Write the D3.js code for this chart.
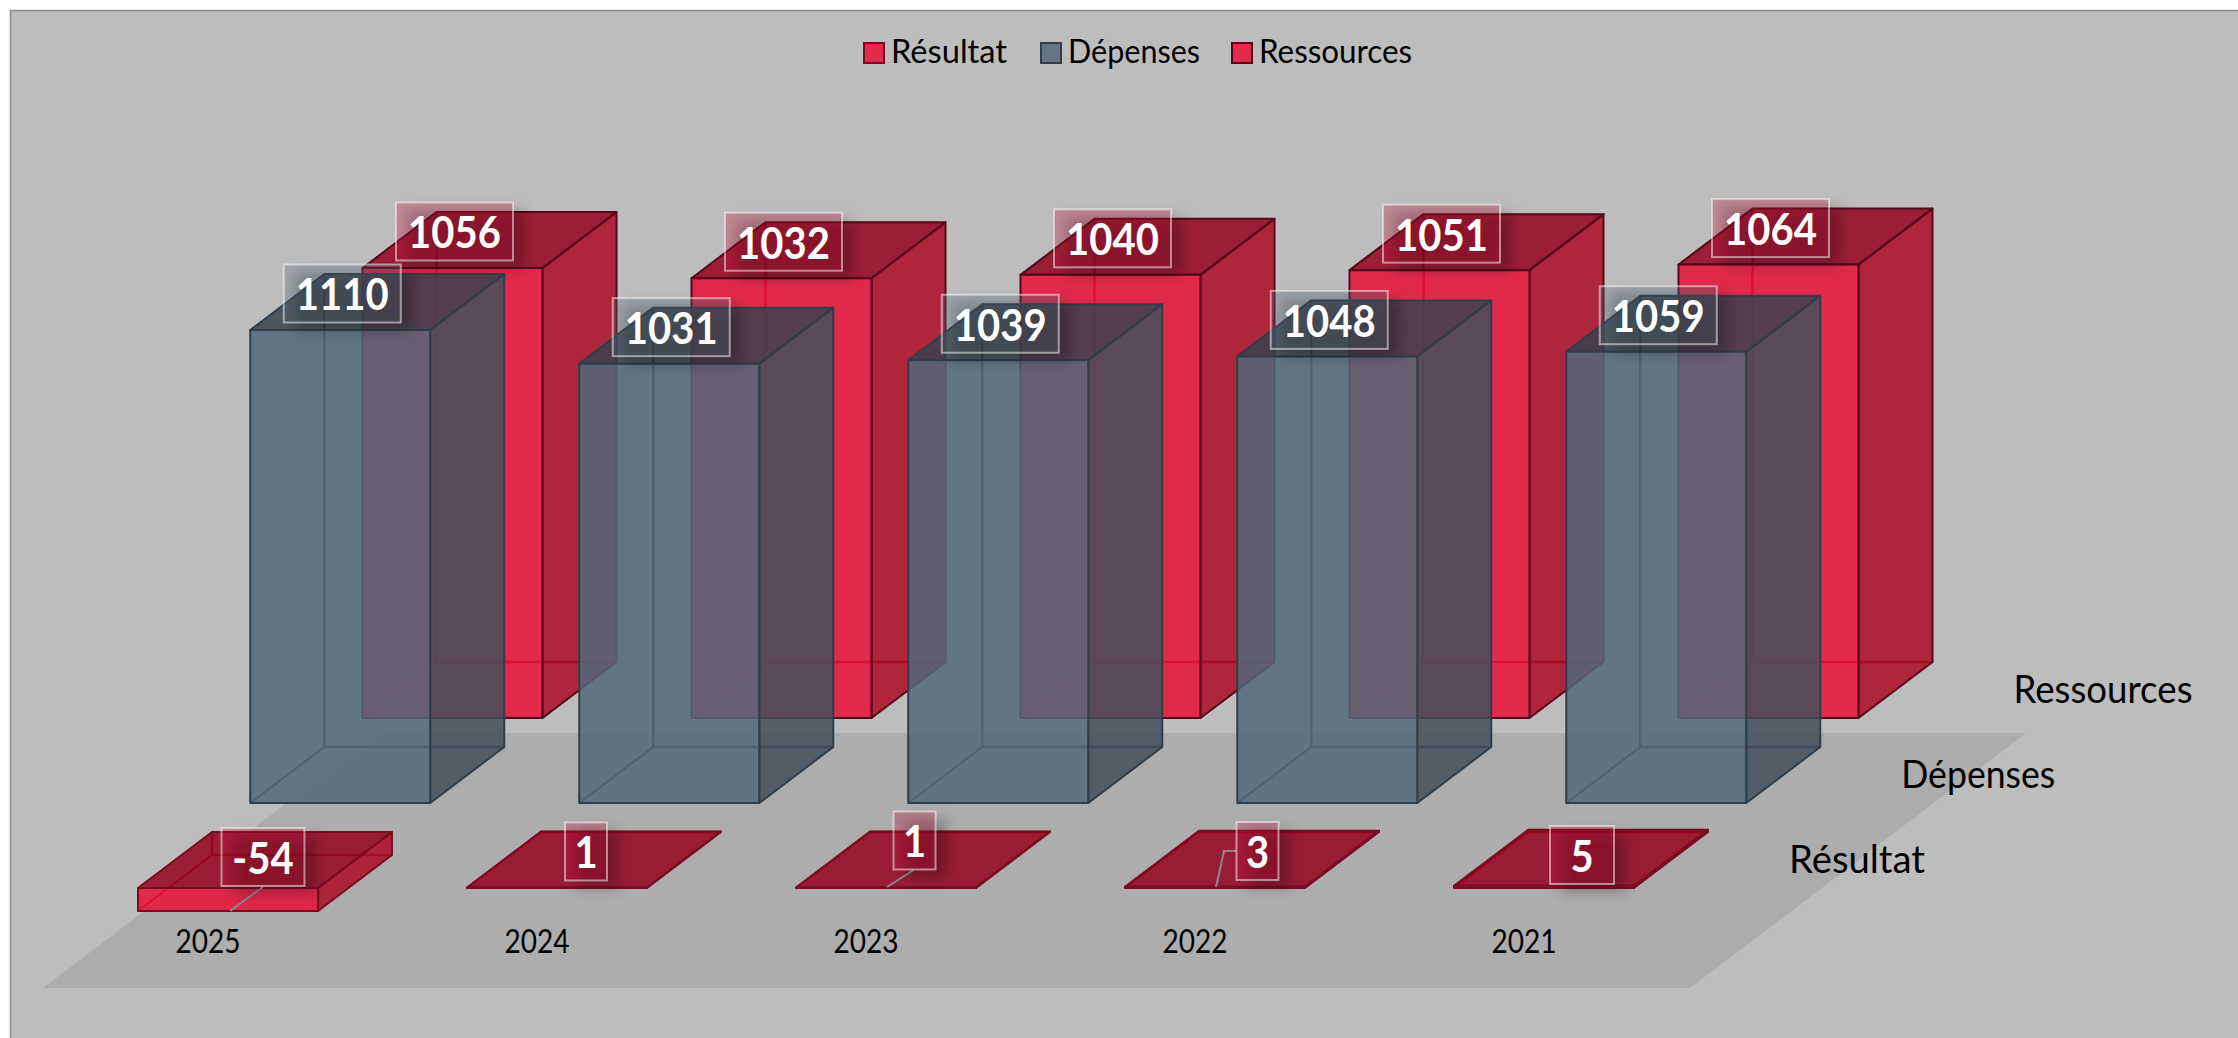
<!DOCTYPE html>
<html>
<head>
<meta charset="utf-8">
<title>Résultat, Dépenses, Ressources</title>
<script src="https://cdn.jsdelivr.net/npm/d3@7"></script>
<style>
  html, body { margin: 0; padding: 0; background: #fff; }
  svg { display: block; }
  text { font-family: Lato, "Open Sans", sans-serif; }
  .axis .domain, .axis line { display: none; }
</style>
</head>
<body>
<div id="chart"></div>
<script>
const WIDTH = 2238;
const HEIGHT = 1038;

const years = ["2025", "2024", "2023", "2022", "2021"];
const seriesNames = ["Résultat", "Dépenses", "Ressources"];
const resultat = [-54, 1, 1, 3, 5];
const depenses = [1110, 1031, 1039, 1048, 1059];
const ressources = [1056, 1032, 1040, 1051, 1064];

// oblique projection of the bar depth
const DEPTH = { X: 74, Y: 56 };

const COLORS = {
  "Résultat": { front: "rgb(232,17,55)", side: "rgb(173,11,38)", top: "rgb(149,4,28)", stroke: "#7a0c22", hidden: "#a80f2c", swatch: "#e22b4b", box: "#c4103c" },
  "Dépenses": { front: "rgb(82,104,122)", side: "rgb(66,79,92)", top: "rgb(56,66,78)", stroke: "#2f3e49", hidden: "#2f3e49", swatch: "#647685", box: "#55697a" },
  "Ressources": { front: "rgb(232,17,55)", side: "rgb(173,11,38)", top: "rgb(149,4,28)", stroke: "#55081a", hidden: "#a80f2c", swatch: "#e22b4b", box: "#c4103c" },
};

// hand placed labels of the flat Résultat row, relative to band centre and base line
const resultatLabelNudges = [[35, -31], [29, -36.5], [28.5, -47.5], [42.5, -37], [38, -33]];
const resultatBoxWidths = [83, 42, 42, 42, 64];
const resultatLeaders = [
  [[35, -1], [2, 23]],
  null,
  [[27.6, -18], [1, -1]],
  [[21, -37], [9, -37], [1, -1]],
  null,
];

// the original font is narrower than Lato, these squeeze the text to the same run length
const legendTextWidths = [116, 132, 153];
const depthTextWidths = [136, 154, 179];
const VALUE_SQUEEZE = 0.93;

const x = d3.scaleBand().domain(years).range([138, 1634]).paddingInner(1 - 180 / 329);
const depthX = d3.scalePoint().domain(seriesNames).range([0, 224.5]);
const baseY = d3.scalePoint().domain(seriesNames).range([888, 718]);
const barHeight = d3.scaleLinear().domain([0, 1110]).range([0, 473]);

const svg = d3
  .select("#chart")
  .append("svg")
  .attr("width", WIDTH)
  .attr("height", HEIGHT);

const defs = svg.append("defs");
defs
  .append("filter")
  .attr("id", "label-shadow")
  .attr("x", "-80%")
  .attr("y", "-80%")
  .attr("width", "260%")
  .attr("height", "260%")
  .append("feGaussianBlur")
  .attr("stdDeviation", 7);

svg
  .append("rect")
  .attr("x", 10.5)
  .attr("y", 10.5)
  .attr("width", WIDTH)
  .attr("height", HEIGHT)
  .style("fill", "#bdbdbd")
  .style("stroke", "#8a8a8a")
  .style("stroke-width", 1.5);

// floor
const pts = (arr) => arr.map((p) => p.join(",")).join(" ");
svg
  .append("polygon")
  .attr("points", pts([[43, 988], [1690, 988], [2026, 733], [379, 733]]))
  .style("fill", "#adadad");

// legend
const legendSwatchX = [864, 1041, 1232];
const legend = svg
  .selectAll(".legend")
  .data(seriesNames)
  .enter()
  .append("g")
  .attr("class", "legend")
  .attr("transform", (d, i) => `translate(${legendSwatchX[i]}, 43)`);
legend
  .append("rect")
  .attr("width", 20)
  .attr("height", 20)
  .style("fill", (d) => COLORS[d].swatch)
  .style("stroke", (d) => COLORS[d].stroke)
  .style("stroke-width", 2);
legend
  .append("text")
  .attr("x", 27)
  .attr("y", 20)
  .attr("font-size", "33px")
  .attr("textLength", (d, i) => legendTextWidths[i])
  .attr("lengthAdjust", "spacingAndGlyphs")
  .style("fill", "#000")
  .text((d) => d);

const seriesValues = { "Résultat": resultat, "Dépenses": depenses, "Ressources": ressources };

function drawBar(g, name, year, value) {
  const c = COLORS[name];
  const x0 = x(year) + depthX(name);
  const x1 = x0 + x.bandwidth();
  const base = baseY(name);
  const top = value >= 0 ? base - barHeight(value) : base;
  const bottom = value >= 0 ? base : base + barHeight(-value);
  const dx = DEPTH.X;
  const dy = DEPTH.Y;

  // edges at the back, seen through the faces
  g.append("polyline")
    .attr("points", pts([[x0 + dx, top - dy], [x0 + dx, bottom - dy], [x1 + dx, bottom - dy]]))
    .style("fill", "none")
    .style("stroke", c.hidden)
    .style("stroke-width", 2.5);
  g.append("line")
    .attr("x1", x0)
    .attr("y1", bottom)
    .attr("x2", x0 + dx)
    .attr("y2", bottom - dy)
    .style("stroke", c.hidden)
    .style("stroke-width", 2);

  const faces = [
    { fill: c.side, opacity: 0.85, p: [[x1, top], [x1 + dx, top - dy], [x1 + dx, bottom - dy], [x1, bottom]] },
    { fill: c.top, opacity: 0.85, p: [[x0, top], [x0 + dx, top - dy], [x1 + dx, top - dy], [x1, top]] },
    { fill: c.front, opacity: 0.85, p: [[x0, top], [x1, top], [x1, bottom], [x0, bottom]] },
  ];
  g.selectAll("polygon")
    .data(faces)
    .enter()
    .append("polygon")
    .attr("points", (d) => pts(d.p))
    .style("fill", (d) => d.fill)
    .style("fill-opacity", (d) => d.opacity)
    .style("stroke", c.stroke)
    .style("stroke-width", 2)
    .style("stroke-linejoin", "round");
}

// back row first
[...seriesNames].reverse().forEach((name) => {
  const row = svg.append("g").attr("class", "row");
  years.forEach((year, i) => {
    drawBar(row.append("g"), name, year, seriesValues[name][i]);
  });
});

// year axis
svg
  .append("g")
  .attr("class", "axis")
  .attr("transform", "translate(-20, 930)")
  .call(d3.axisBottom(x).tickSize(0).tickPadding(0))
  .call((g) => {
    g.selectAll("text")
      .attr("font-size", "32px")
      .attr("font-family", "Lato")
      .attr("textLength", 65)
      .attr("lengthAdjust", "spacingAndGlyphs")
      .style("fill", "#000");
  });

// series names along the depth
svg
  .selectAll(".depth-label")
  .data(seriesNames)
  .enter()
  .append("text")
  .attr("class", "depth-label")
  .attr("x", (d) => 1789 + depthX(d))
  .attr("y", (d) => baseY(d) - 15)
  .attr("font-size", "38px")
  .attr("textLength", (d, i) => depthTextWidths[i])
  .attr("lengthAdjust", "spacingAndGlyphs")
  .style("fill", "#000")
  .text((d) => d);

// value labels
const labelData = [];
[...seriesNames].reverse().forEach((name) => {
  seriesValues[name].forEach((value, i) => {
    const centre = x(years[i]) + x.bandwidth() / 2 + depthX(name);
    if (name === "Résultat") {
      labelData.push({
        name,
        value,
        centre,
        cx: centre + resultatLabelNudges[i][0],
        cy: baseY(name) + resultatLabelNudges[i][1],
        w: resultatBoxWidths[i],
        leader: resultatLeaders[i],
      });
    } else {
      labelData.push({
        name,
        value,
        centre,
        cx: centre + 2,
        cy: baseY(name) - barHeight(value) - 36.5,
        w: 117,
        leader: null,
      });
    }
  });
});

const BOX_H = 58;
const labels = svg
  .selectAll(".value-label")
  .data(labelData)
  .enter()
  .append("g")
  .attr("class", "value-label");

labels
  .filter((d) => d.leader)
  .append("polyline")
  .attr("points", (d) => pts(d.leader.map((p) => [d.centre + p[0], baseY(d.name) + p[1]])))
  .style("fill", "none")
  .style("stroke", "#8a8a8a")
  .style("stroke-width", 2);

labels
  .append("rect")
  .attr("x", (d) => d.cx - d.w / 2 + 11)
  .attr("y", (d) => d.cy - BOX_H / 2 + 8)
  .attr("width", (d) => d.w)
  .attr("height", BOX_H)
  .attr("filter", "url(#label-shadow)")
  .style("fill", "#000")
  .style("opacity", 0.26);

labels
  .append("rect")
  .attr("x", (d) => d.cx - d.w / 2)
  .attr("y", (d) => d.cy - BOX_H / 2)
  .attr("width", (d) => d.w)
  .attr("height", BOX_H)
  .style("fill", (d) => COLORS[d.name].box)
  .style("fill-opacity", 0.3)
  .style("stroke", "#fff")
  .style("stroke-opacity", 0.5)
  .style("stroke-width", 2);

labels
  .append("text")
  .attr("x", (d) => d.cx)
  .attr("y", (d) => d.cy + 1.5)
  .attr("dy", "0.36em")
  .attr("text-anchor", "middle")
  .attr("font-size", "43px")
  .attr("font-weight", 700)
  .style("fill", "#fff")
  .text((d) => d.value)
  .each(function () {
    const len = this.getComputedTextLength();
    d3.select(this)
      .attr("textLength", len * VALUE_SQUEEZE)
      .attr("lengthAdjust", "spacingAndGlyphs");
  });
</script>
</body>
</html>
